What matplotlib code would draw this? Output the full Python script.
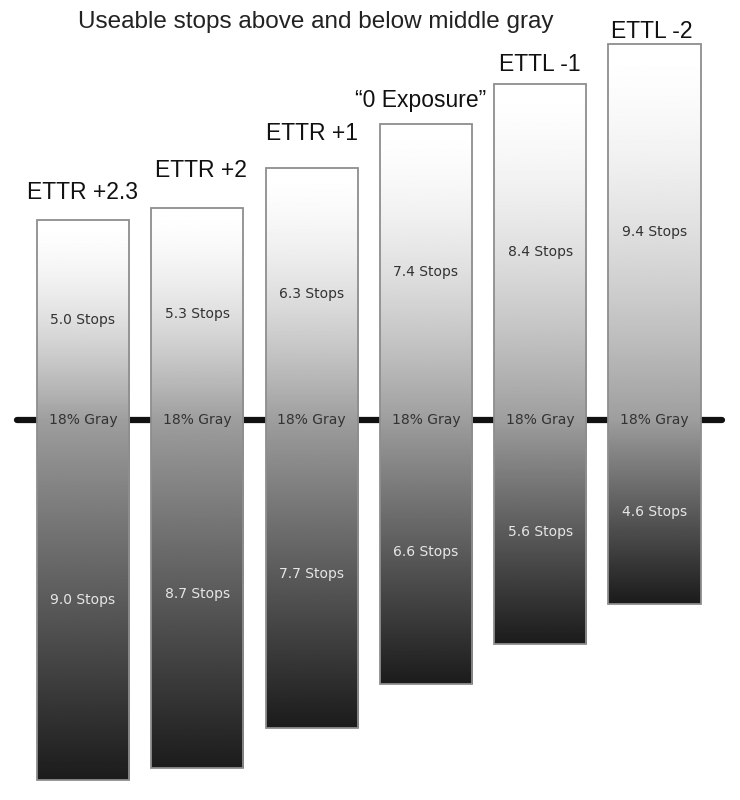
import numpy as np
import matplotlib.pyplot as plt
from matplotlib.patches import Rectangle

# 数据：每种曝光下中灰以上/以下的可用档数
labels = ['ETTR +2.3', 'ETTR +2', 'ETTR +1', '\u201c0 Exposure\u201d', 'ETTL -1', 'ETTL -2']
stops_above = [5.0, 5.3, 6.3, 7.4, 8.4, 9.4]
stops_below = [9.0, 8.7, 7.7, 6.6, 5.6, 4.6]
title_gap = [0.68, 0.93, 0.87, 0.60, 0.48, 0.32]   # 标签距柱顶的距离（档）
label_dx = [0.0, 0.03, 0.0, -0.05, 0.0, -0.02]

fig = plt.figure(figsize=(7.4, 8.0), dpi=100)
ax = fig.add_axes([0, 0, 1, 1])
ax.set_xlim(-0.726, 5.748)
ax.set_ylim(-9.5, 10.5)
ax.axis('off')

# 中灰横线
ax.plot([-0.58, 5.59], [0, 0], color='#111111', lw=4.5, solid_capstyle='round', zorder=1)

# 渐变：顶部白 -> 中灰线处灰 -> 底部黑
def shade(n_above, n_below, n=400):
    y = np.linspace(n_above, -n_below, n)
    b = np.where(y >= 0,
                 1.0 - 0.38 * (1 - y / n_above) ** 1.6,
                 0.62 - 0.51 * (-y / n_below) ** 0.95)
    return np.repeat(b[:, None], 2, axis=1)

w = 0.805
for i, (lab, a, bl) in enumerate(zip(labels, stops_above, stops_below)):
    x0 = i - w / 2
    ax.imshow(shade(a, bl), cmap='gray', vmin=0, vmax=1, aspect='auto',
              extent=[x0, x0 + w, -bl, a], zorder=2, interpolation='bilinear')
    ax.add_patch(Rectangle((x0, -bl), w, a + bl, fill=False, ec='#8e8e8e', lw=1.3, zorder=3))
    ax.text(i, a / 2, f'{a:.1f} Stops', ha='center', va='center', fontsize=10,
            color='#333333', family='DejaVu Sans', zorder=4)
    ax.text(i, 0, '18% Gray', ha='center', va='center', fontsize=10,
            color='#333333', family='DejaVu Sans', zorder=4)
    ax.text(i, -bl / 2, f'{bl:.1f} Stops', ha='center', va='center', fontsize=10,
            color='#e6e6e6', family='DejaVu Sans', zorder=4)
    ax.text(i + label_dx[i], a + title_gap[i], lab, ha='center', va='center', fontsize=16.5,
            color='#111111', family='Liberation Sans', zorder=4)

ax.text(2.04, 9.95, 'Useable stops above and below middle gray', ha='center', va='center',
        fontsize=17.5, color='#222222', family='Liberation Sans')

plt.savefig('out.png', dpi=100, facecolor='white')
plt.close()
